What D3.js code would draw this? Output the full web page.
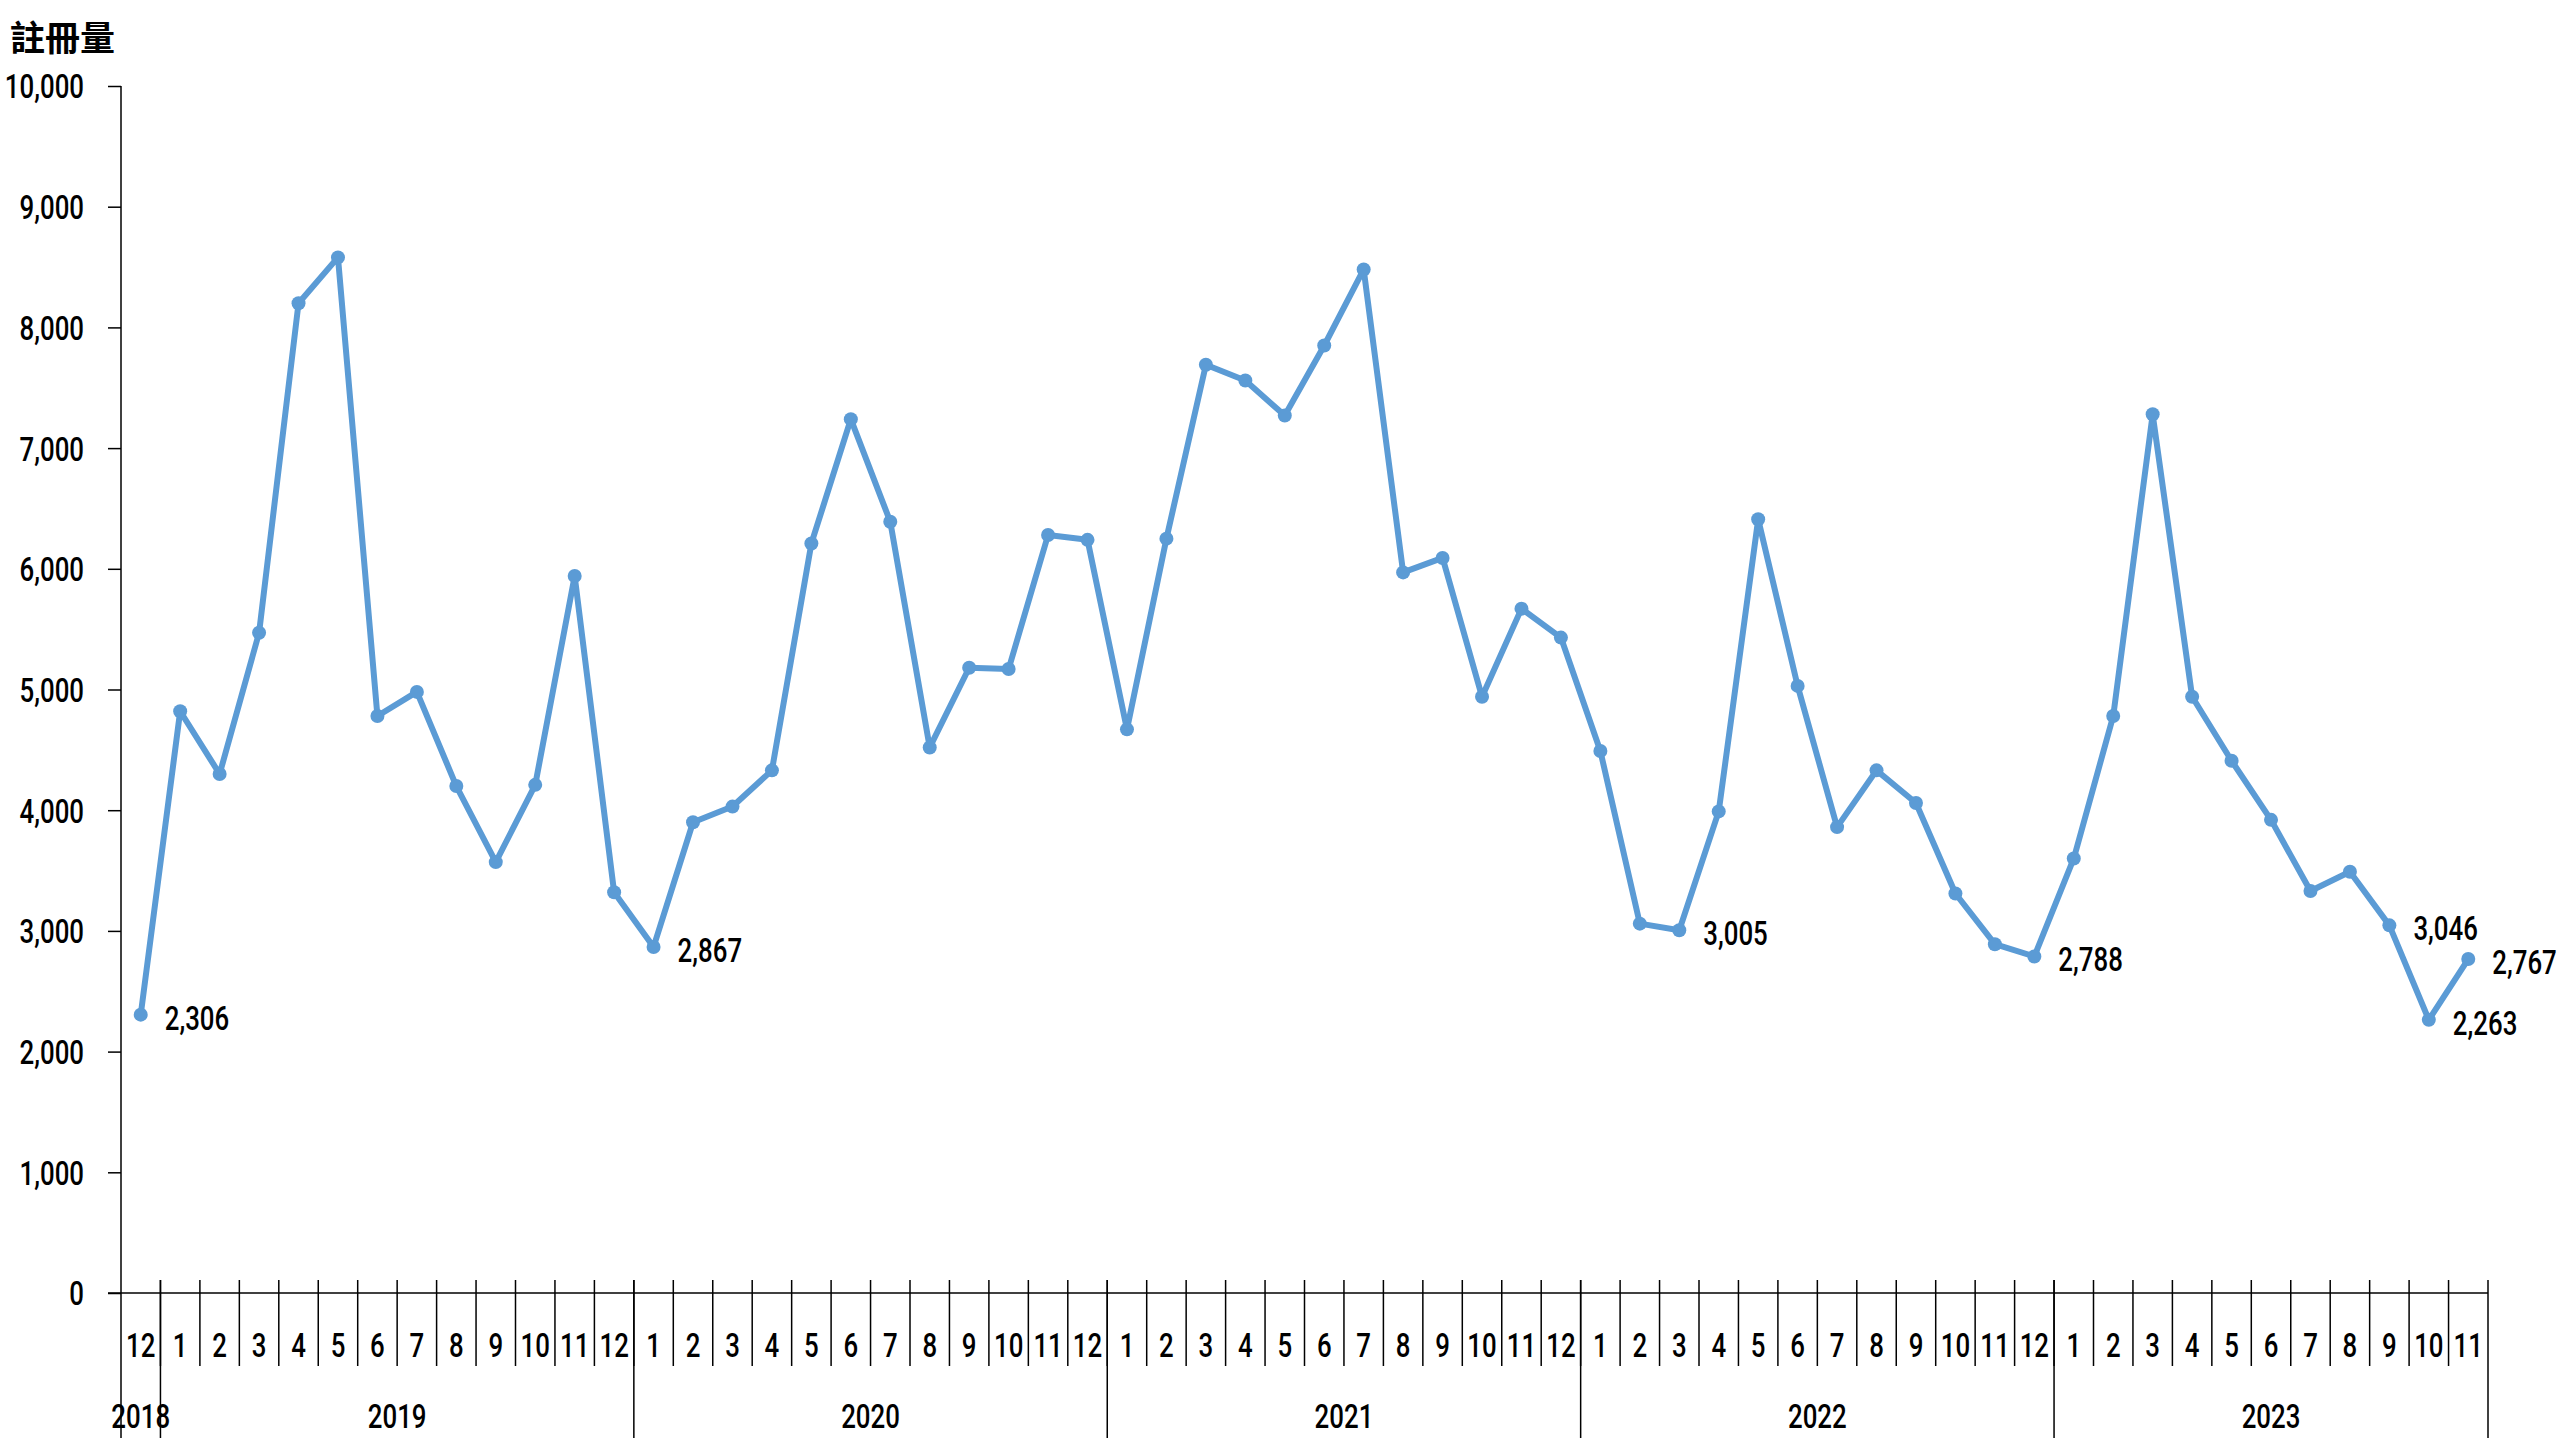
<!DOCTYPE html>
<html>
<head>
<meta charset="utf-8">
<script src="https://cdn.jsdelivr.net/npm/d3@7"></script>
<style>
  html, body { margin: 0; padding: 0; background: #fff; }
  svg { display: block; }
  .num { font-family: "Roboto", "DejaVu Sans Condensed", sans-serif; font-weight: 500; fill: #000; }
</style>
</head>
<body>
<svg id="chart" width="2560" height="1440"></svg>
<script>
// ---- Data ----
const monthLabels = ["12",
  "1","2","3","4","5","6","7","8","9","10","11","12",
  "1","2","3","4","5","6","7","8","9","10","11","12",
  "1","2","3","4","5","6","7","8","9","10","11","12",
  "1","2","3","4","5","6","7","8","9","10","11","12",
  "1","2","3","4","5","6","7","8","9","10","11"];
const yearLabels = ["2018","2019","2020","2021","2022","2023"];
const yearMonthCounts = [1, 12, 12, 12, 12, 11];
const registrations = [2306,
  4820, 4300, 5470, 8200, 8580, 4780, 4980, 4200, 3570, 4210, 5940, 3320,
  2867, 3900, 4030, 4330, 6210, 7240, 6390, 4520, 5180, 5170, 6280, 6240,
  4670, 6250, 7690, 7560, 7270, 7850, 8480, 5970, 6090, 4940, 5670, 5430,
  4490, 3060, 3005, 3990, 6410, 5030, 3860, 4330, 4060, 3310, 2890, 2788,
  3600, 4780, 7280, 4940, 4410, 3920, 3330, 3490, 3046, 2263, 2767];
const labeledIndices = [0, 13, 39, 48, 57, 58, 59];
const yTicks = [0,1000,2000,3000,4000,5000,6000,7000,8000,9000,10000];
const yTitle = "註冊量";

// ---- Layout ----
const SX = 0.76; // horizontal condensing of numeric labels
const FS = 34;
const svg = d3.select("#chart");
const plotLeft = 121, plotRight = 2488, plotTop = 86, plotBottom = 1293;
const x = d3.scaleBand().domain(d3.range(registrations.length)).range([plotLeft, plotRight]);
const y = d3.scaleLinear().domain([0, 10000]).range([plotBottom, plotTop]);
const fmt = d3.format(",");
const stroke = "#000";

function numText(sel) {
  return sel.attr("class", "num").attr("font-size", FS).attr("dy", "0.35em");
}
function place(sel, fx, fy) {
  return sel.attr("x", 0).attr("y", 0)
    .attr("transform", (d, i) => `translate(${fx(d, i)},${fy(d, i)}) scale(${SX},1)`);
}

// Y axis
const yAxis = d3.axisLeft(y).tickValues(yTicks).tickSize(13).tickSizeOuter(0).tickPadding(24).tickFormat(fmt);
const gy = svg.append("g").attr("transform", `translate(${plotLeft},0)`).call(yAxis);
gy.select(".domain").remove();
gy.selectAll(".tick line").attr("stroke", stroke).attr("stroke-width", 1.5);
gy.selectAll(".tick text").each(function () {
  const t = d3.select(this);
  const xx = +t.attr("x");
  t.attr("class", "num").attr("font-size", FS).attr("fill", "#000").attr("dy", "0.35em")
    .attr("x", 0).attr("transform", `translate(${xx},0) scale(${SX},1)`);
});
svg.append("line").attr("x1", plotLeft).attr("x2", plotLeft).attr("y1", plotTop).attr("y2", 1438)
  .attr("stroke", stroke).attr("stroke-width", 1.5);

// X axis baseline
svg.append("line").attr("x1", plotLeft - 13).attr("x2", plotRight).attr("y1", plotBottom).attr("y2", plotBottom)
  .attr("stroke", stroke).attr("stroke-width", 1.5);

// Month separators and labels
const bw = x.bandwidth();
svg.append("g").selectAll("line").data(d3.range(1, registrations.length)).join("line")
  .attr("x1", i => x(i)).attr("x2", i => x(i)).attr("y1", 1280).attr("y2", 1366)
  .attr("stroke", stroke).attr("stroke-width", 1.5);
place(numText(svg.append("g").selectAll("text").data(monthLabels).join("text"))
  .attr("text-anchor", "middle").text(d => d),
  (d, i) => x(i) + bw / 2, () => 1345);

// Year separators and labels
let startIdx = 0;
const yearInfo = yearLabels.map((yl, k) => {
  const s = startIdx; startIdx += yearMonthCounts[k];
  return { label: yl, start: s, end: startIdx };
});
const xEdge = i => i >= registrations.length ? plotRight : x(i);
svg.append("g").selectAll("line").data(yearInfo.map(d => d.end)).join("line")
  .attr("x1", xEdge).attr("x2", xEdge).attr("y1", 1280).attr("y2", 1438)
  .attr("stroke", stroke).attr("stroke-width", 1.5);
place(numText(svg.append("g").selectAll("text").data(yearInfo).join("text"))
  .attr("text-anchor", "middle").text(d => d.label),
  d => (xEdge(d.start) + xEdge(d.end)) / 2, () => 1416);

// Title
svg.append("text").attr("x", 10).attr("y", 51)
  .attr("font-family", "'Noto Sans CJK TC', 'Noto Sans CJK SC', sans-serif")
  .attr("font-weight", 700).attr("font-size", 35).attr("fill", "#000").text(yTitle);

// Line
const color = "#5B9BD5";
const line = d3.line().x((d, i) => x(i) + bw / 2).y(d => y(d));
svg.append("path").datum(registrations).attr("d", line)
  .attr("fill", "none").attr("stroke", color).attr("stroke-width", 6).attr("stroke-linejoin", "round");
svg.append("g").selectAll("circle").data(registrations).join("circle")
  .attr("cx", (d, i) => x(i) + bw / 2).attr("cy", d => y(d)).attr("r", 7).attr("fill", color);

// Data labels
place(numText(svg.append("g").selectAll("text").data(labeledIndices).join("text"))
  .text(i => fmt(registrations[i])),
  i => x(i) + bw / 2 + 24, i => y(registrations[i]) + 3);
</script>
</body>
</html>
